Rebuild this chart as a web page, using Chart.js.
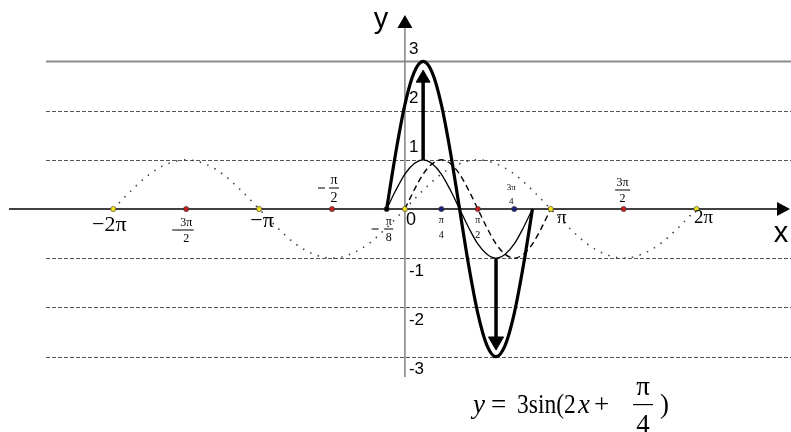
<!DOCTYPE html>
<html>
<head>
<meta charset="utf-8">
<script src="https://cdn.jsdelivr.net/npm/chart.js@4.4.1/dist/chart.umd.min.js"></script>
<style>
html, body { margin: 0; padding: 0; background: #fff; }
canvas { display: block; }
</style>
</head>
<body>
<canvas id="sinChart" width="791" height="432"></canvas>
<script>
// x values are in units of pi
const xSinX = [-2,-1.875,-1.75,-1.625,-1.5,-1.375,-1.25,-1.125,-1,-0.875,-0.75,-0.625,-0.5,-0.375,-0.25,-0.125,
               0,0.125,0.25,0.375,0.5,0.625,0.75,0.875,1,1.125,1.25,1.375,1.5,1.625,1.75,1.875,2];
const ySinX = [0,0.38,0.71,0.92,1,0.92,0.71,0.38,0,-0.38,-0.71,-0.92,-1,-0.92,-0.71,-0.38,
               0,0.38,0.71,0.92,1,0.92,0.71,0.38,0,-0.38,-0.71,-0.92,-1,-0.92,-0.71,-0.38,0];

const xSin2x = [0,0.0625,0.125,0.1875,0.25,0.3125,0.375,0.4375,0.5,0.5625,0.625,0.6875,0.75,0.8125,0.875,0.9375,1];
const ySin2x = [0,0.38,0.71,0.92,1,0.92,0.71,0.38,0,-0.38,-0.71,-0.92,-1,-0.92,-0.71,-0.38,0];

const xShift = [-0.125,-0.0625,0,0.0625,0.125,0.1875,0.25,0.3125,0.375,0.4375,0.5,0.5625,0.625,0.6875,0.75,0.8125,0.875];
const yShift = [0,0.38,0.71,0.92,1,0.92,0.71,0.38,0,-0.38,-0.71,-0.92,-1,-0.92,-0.71,-0.38,0];
const yStretch = [0,1.15,2.12,2.77,3,2.77,2.12,1.15,0,-1.15,-2.12,-2.77,-3,-2.77,-2.12,-1.15,0];

const arrowUpX = [0.125, 0.125];
const arrowUpY = [1, 2.66];
const arrowDownX = [0.625, 0.625];
const arrowDownY = [-1, -2.69];

const markX = [-2,-1.5,-1,-0.5,-0.125,0,0.25,0.5,0.75,1,1.5,2];
const xTickText = ['−2π','−3π/2','−π','−π/2','−π/8','0','π/4','π/2','3π/4','π','3π/2','2π'];

const gridY = [3,2,1,-1,-2,-3];
const yTickText = ['3','2','1','-1','-2','-3'];

function pts(xs, ys){
    return xs.map((x, i) => ({x: x, y: ys[i]}));
}

function markColor(v){
    if (Number.isInteger(v)) return '#f2e21a';
    if (Number.isInteger(v * 2)) return '#c81e1e';
    if (Number.isInteger(v * 4)) return '#1e1e7a';
    return '#000';
}

const SERIF = '"Liberation Serif", "Times New Roman", serif';
const SANS = '"Liberation Sans", Arial, sans-serif';

// how each x tick label is drawn (kind, offsets, font size)
const labelLayout = {
    '−2π':  {kind:'big', dx:-4, cy:225, size:22},
    '−3π/2':{kind:'frac', dx:0, bar:230, size:12, line:true, minus:-10},
    '−π':   {kind:'big', dx:3, cy:221, size:22},
    '−π/2': {kind:'frac', dx:2, bar:188, size:14, line:true, minus:-12},
    '−π/8': {kind:'frac', dx:2, bar:229, size:12, line:true, minus:-13},
    '0':    {kind:'sans', dx:6, cy:220, size:18},
    'π/4':  {kind:'frac', dx:0, bar:227, size:10, line:false},
    'π/2':  {kind:'frac', dx:0, bar:227, size:10, line:false},
    '3π/4': {kind:'frac', dx:-3, bar:194, size:9, line:false},
    'π':    {kind:'big', dx:11, cy:218, size:19},
    '3π/2': {kind:'frac', dx:-1, bar:190, size:12, line:true},
    '2π':   {kind:'big', dx:7, cy:218, size:19}
};

function drawFrac(ctx, num, den, cx, bar, size, line){
    ctx.font = size + 'px ' + SERIF;
    ctx.textAlign = 'center';
    ctx.textBaseline = 'alphabetic';
    ctx.fillText(num, cx, bar - 4);
    ctx.fillText(den, cx, bar + 4 + size * 0.68);
    if (line){
        const w = Math.max(ctx.measureText(num).width, ctx.measureText(den).width) + 3;
        ctx.fillRect(cx - w / 2, bar - 0.5, w, 1);
    }
}

const mathPlugin = {
    id: 'mathPlugin',
    beforeDatasetsDraw(chart){
        const ctx = chart.ctx;
        const xs = chart.scales.x, ys = chart.scales.y;
        const x0 = xs.getPixelForValue(0), y0 = ys.getPixelForValue(0);
        ctx.save();
        gridY.forEach(v => {
            const py = Math.round(ys.getPixelForValue(v)) + 0.5;
            ctx.beginPath();
            if (v === 3){
                ctx.setLineDash([]); ctx.strokeStyle = '#8c8c8c'; ctx.lineWidth = 2;
            } else {
                ctx.setLineDash([4, 2]); ctx.strokeStyle = '#555'; ctx.lineWidth = 1;
            }
            ctx.moveTo(46, py); ctx.lineTo(791, py); ctx.stroke();
        });
        ctx.setLineDash([]);
        // x axis
        ctx.strokeStyle = '#000'; ctx.lineWidth = 1.5;
        ctx.beginPath(); ctx.moveTo(9, y0); ctx.lineTo(780, y0); ctx.stroke();
        ctx.fillStyle = '#000';
        ctx.beginPath(); ctx.moveTo(790, y0); ctx.lineTo(777, y0 - 7); ctx.lineTo(777, y0 + 7); ctx.closePath(); ctx.fill();
        // y axis
        ctx.strokeStyle = '#808080'; ctx.lineWidth = 1.5;
        ctx.beginPath(); ctx.moveTo(x0, 377); ctx.lineTo(x0, 26); ctx.stroke();
        ctx.beginPath(); ctx.moveTo(x0, 15); ctx.lineTo(x0 - 7.5, 28); ctx.lineTo(x0 + 7.5, 28); ctx.closePath(); ctx.fill();
        ctx.restore();
    },
    afterDatasetsDraw(chart){
        const ctx = chart.ctx;
        const xs = chart.scales.x, ys = chart.scales.y;
        const x0 = xs.getPixelForValue(0);
        ctx.save();
        ctx.fillStyle = '#000';

        // axis names
        ctx.font = '29px ' + SANS;
        ctx.textAlign = 'center'; ctx.textBaseline = 'alphabetic';
        ctx.fillText('y', 381, 28);
        ctx.fillText('x', 781, 242);

        // y tick labels
        ctx.font = '17px ' + SANS;
        ctx.textAlign = 'left'; ctx.textBaseline = 'middle';
        gridY.forEach((v, i) => {
            const py = ys.getPixelForValue(v);
            ctx.fillText(yTickText[i], x0 + 4, v > 0 ? py - 12 : py + 13);
        });

        // x tick labels
        markX.forEach((v, i) => {
            const t = xTickText[i];
            const l = labelLayout[t];
            const cx = xs.getPixelForValue(v) + l.dx;
            if (l.kind === 'big' || l.kind === 'sans'){
                ctx.font = l.size + 'px ' + (l.kind === 'big' ? SERIF : SANS);
                ctx.textAlign = 'center'; ctx.textBaseline = 'middle';
                ctx.fillText(t, cx, l.cy);
            } else {
                let s = t;
                if (s[0] === '−'){
                    s = s.slice(1);
                    ctx.fillRect(cx + l.minus - 4, l.bar - 0.5, 7, 1);
                }
                const parts = s.split('/');
                drawFrac(ctx, parts[0], parts[1], cx, l.bar, l.size, l.line);
            }
        });

        // formula  y = 3sin(2x + π/4)
        const base = 413;
        ctx.textAlign = 'left'; ctx.textBaseline = 'alphabetic';
        ctx.font = 'italic 27px ' + SERIF;
        ctx.fillText('y', 473, base);
        ctx.fillText('x', 578, base);
        ctx.font = '27px ' + SERIF;
        ctx.fillText('=', 491, base);
        ctx.save();
        ctx.translate(517, base);
        ctx.scale(0.87, 1);
        ctx.fillText('3sin(2', 0, 0);
        ctx.restore();
        ctx.fillText('+', 594, base);
        ctx.fillText(')', 660, base);
        ctx.textAlign = 'center';
        ctx.fillText('π', 643, 395);
        ctx.fillText('4', 643, 433);
        ctx.fillRect(633, 404, 20, 1.2);
        ctx.restore();
    }
};

const ctx = document.getElementById('sinChart');
const chart = new Chart(ctx, {
    type: 'scatter',
    data: {
        datasets: [
            {
                label: 'marks',
                data: pts(markX, markX.map(() => 0)),
                showLine: false,
                pointRadius: 2.6,
                pointBackgroundColor: markX.map(markColor),
                pointBorderColor: '#333',
                pointBorderWidth: 0.6
            },
            {
                label: 'arrow up',
                data: pts(arrowUpX, arrowUpY),
                showLine: true,
                borderColor: '#000',
                borderWidth: 3.5,
                pointStyle: 'triangle',
                pointRadius: [0, 8],
                pointBackgroundColor: '#000',
                pointBorderColor: '#000',
                pointBorderWidth: 1
            },
            {
                label: 'arrow down',
                data: pts(arrowDownX, arrowDownY),
                showLine: true,
                borderColor: '#000',
                borderWidth: 3.5,
                pointStyle: 'triangle',
                pointRotation: 180,
                pointRadius: [0, 8.7],
                pointBackgroundColor: '#000',
                pointBorderColor: '#000',
                pointBorderWidth: 1
            },
            {
                label: 'y = 3sin(2x+π/4)',
                data: pts(xShift, yStretch),
                showLine: true,
                borderColor: '#000',
                borderWidth: 3.2,
                pointRadius: 0,
                cubicInterpolationMode: 'monotone'
            },
            {
                label: 'y = sin(2x+π/4)',
                data: pts(xShift, yShift),
                showLine: true,
                borderColor: '#000',
                borderWidth: 1.3,
                pointRadius: 0,
                cubicInterpolationMode: 'monotone'
            },
            {
                label: 'y = sin2x',
                data: pts(xSin2x, ySin2x),
                showLine: true,
                borderColor: '#000',
                borderWidth: 1.4,
                borderDash: [6, 4],
                pointRadius: 0,
                cubicInterpolationMode: 'monotone'
            },
            {
                label: 'y = sinx',
                data: pts(xSinX, ySinX),
                showLine: true,
                borderColor: '#444',
                borderWidth: 1.6,
                borderDash: [1.5, 6.5],
                pointRadius: 0,
                cubicInterpolationMode: 'monotone'
            }
        ]
    },
    options: {
        responsive: false,
        animation: false,
        events: [],
        layout: { padding: 0, autoPadding: false },
        scales: {
            x: { type: 'linear', min: -2.777, max: 2.648, display: false },
            y: { type: 'linear', min: -4.533, max: 4.248, display: false }
        },
        plugins: {
            legend: { display: false },
            tooltip: { enabled: false }
        }
    },
    plugins: [mathPlugin]
});
</script>
</body>
</html>
